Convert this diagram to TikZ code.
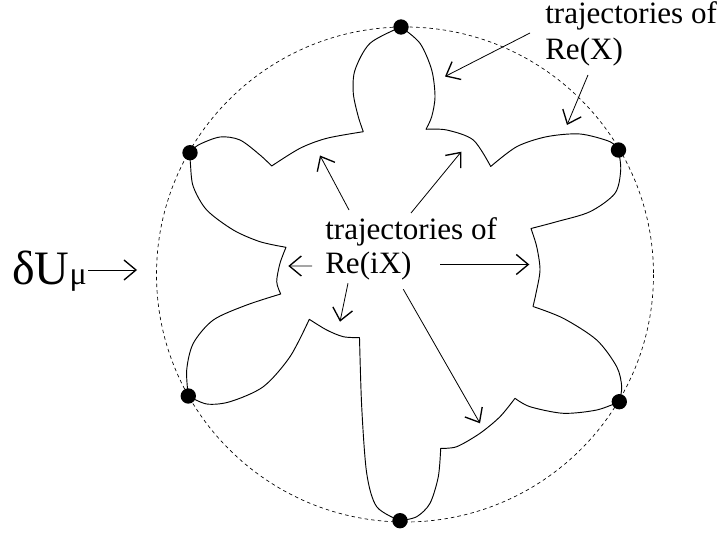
\documentclass[tikz,border=0pt]{standalone}
\usepackage{fontspec}
\setmainfont{Liberation Serif}
\usetikzlibrary{arrows.meta, positioning}
\tikzstyle{pointer} = [line width=0.6pt,-{Straight Barb[length=9pt,width=15pt,line width=1pt]}]
\tikzstyle{endpt} = [circle,fill,inner sep=0pt,minimum size=11.5pt]
\tikzstyle{lbl} = [inner sep=0pt,font=\fontsize{23.3}{27}\selectfont]

\begin{document}
\begin{tikzpicture}[x=0.75pt,y=-0.75pt,line join=round]
\useasboundingbox (0,0) rectangle (720,534);
% boundary of U_mu
\draw[line width=0.5pt,dash pattern=on 2.6pt off 2.4pt] (405,274.5) ellipse [x radius=248.5, y radius=247.5];

\node[endpt] (d_1) at (401,27) {};
\node[endpt] (d_2) at (618.5,150) {};
\node[endpt] (d_3) at (619.3,401.7) {};
\node[endpt] (d_4) at (400,520.7) {};
\node[endpt] (d_5) at (188.3,396) {};
\node[endpt] (d_6) at (190,152.7) {};

% the six petals
\draw[line width=0.7pt]
  plot[smooth] coordinates {(d_1.center) (420,43.3) (431.7,70) (435,96.7) (431.7,116.7) (426,129.3)}
  -- plot[smooth] coordinates {(426,129.3) (446.7,130) (473.3,140) (490.7,166.5)}
  -- plot[smooth] coordinates {(490.7,166.5) (516.7,146.7) (546.7,136.7) (580,134) (610,141.7) (d_2.center)}
  -- plot[smooth] coordinates {(d_2.center) (620.7,170) (615,193.3) (590,211.7) (556.7,221.7) (531,228.5)}
  -- plot[smooth] coordinates {(531,228.5) (536.7,246.7) (540,270) (536,293.3) (533,306.5)}
  -- plot[smooth] coordinates {(533,306.5) (563.3,318.3) (596.7,340) (616.7,366.7) (621.7,386.7) (d_3.center)}
  -- plot[smooth] coordinates {(d_3.center) (596.7,410) (563.3,413.3) (530,406.7) (515,398.3)}
  -- plot[smooth] coordinates {(515,398.3) (500,416.7) (480,433.3) (456.7,446.7) (440.7,448.3)}
  -- plot[smooth] coordinates {(440.7,448.3) (438.3,476.7) (430,503.3) (416.7,516.7) (d_4.center)}
  -- plot[smooth] coordinates {(d_4.center) (376.7,506.7) (366.7,473.3) (361.7,406.7) (359.5,337.7)}
  -- plot[smooth] coordinates {(359.5,337.7) (343.3,336.7) (326.7,330) (309.3,319.3)}
  -- plot[smooth] coordinates {(309.3,319.3) (290,356.7) (263.3,386.7) (230,401.7) (206.7,404) (d_5.center)}
  -- plot[smooth] coordinates {(d_5.center) (186.7,370) (193.3,343.3) (213.3,320) (246.7,305) (280.7,294)}
  -- plot[smooth] coordinates {(280.7,294) (276.7,281.7) (280,263.3) (286,247.3)}
  -- plot[smooth] coordinates {(286,247.3) (260,241.7) (233.3,230) (206.7,210) (193.3,186.7) (190.5,165) (d_6.center)}
  -- plot[smooth] coordinates {(d_6.center) (198.3,145) (220,137) (240,140) (260,155) (271.7,166)}
  -- plot[smooth] coordinates {(271.7,166) (300,148.3) (326.7,138.3) (363.3,131.7)}
  -- plot[smooth] coordinates {(363.3,131.7) (358.3,116.7) (353.3,93.3) (355,70) (370,43.3) (d_1.center)}
  -- cycle;

\node[lbl,anchor=base west] (tI) at (325,239.3) {trajectories of};
\node[lbl,below=26pt of tI.base west,anchor=base west] (rI) {Re(iX)};
\node[lbl,anchor=base west] (tX) at (545,23.3) {trajectories of};
\node[lbl,below=27.5pt of tX.base west,anchor=base west] (rX) {Re(X)};
\node[anchor=base west,inner sep=0pt,font=\fontsize{36}{40}\selectfont] (dU) at (12,285) {δU{\fontsize{24}{24}\selectfont μ}};

\coordinate (a_1) at (445,76.5);
\coordinate (a_2) at (567,125);
\coordinate (a_3) at (320,155.5);
\coordinate (a_4) at (461.3,151.7);
\coordinate (a_5) at (288.3,266);
\coordinate (a_6) at (529.3,264.5);
\coordinate (a_7) at (340,321.7);
\coordinate (a_8) at (480,423.3);
\coordinate (a_9) at (137,270);

\draw[pointer] ([shift={(-15,9.7)}]tX.base west) -- (a_1);
\draw[pointer] ([shift={(43,15)}]rX.base west) -- (a_2);
\draw[pointer] ([shift={(24,-29.3)}]tI.base west) -- (a_3);
\draw[pointer] ([shift={(86,-26.3)}]tI.base west) -- (a_4);
\draw[pointer] ([shift={(-13,-8)}]rI.base west) -- (a_5);
\draw[pointer] ([shift={(115,-9.5)}]rI.base west) -- (a_6);
\draw[pointer] ([shift={(23,9.3)}]rI.base west) -- (a_7);
\draw[pointer] ([shift={(78.3,15.3)}]rI.base west) -- (a_8);
\draw[pointer,shorten <=1pt] (dU.east |- a_9) -- (a_9);
\end{tikzpicture}
\end{document}
